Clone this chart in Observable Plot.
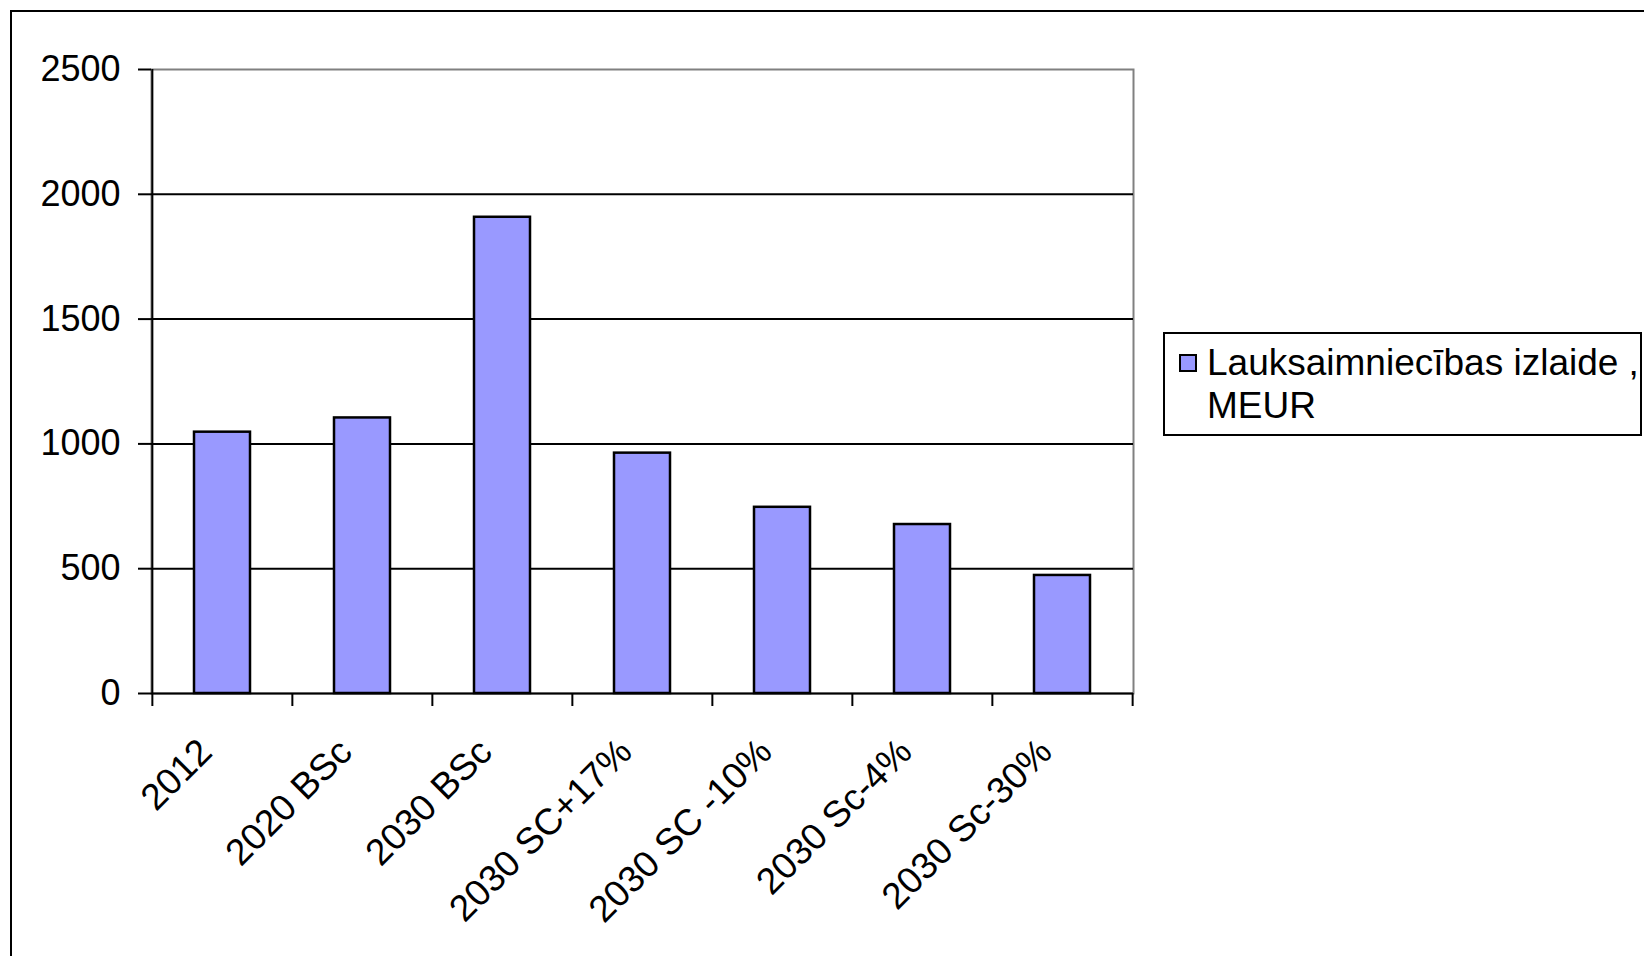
<!DOCTYPE html>
<html>
<head>
<meta charset="utf-8">
<script src="https://cdn.jsdelivr.net/npm/d3@7"></script>
<script src="https://cdn.jsdelivr.net/npm/@observablehq/plot@0.6"></script>
<style>
  html, body { margin: 0; padding: 0; background: #fff; overflow: hidden; }
  body { width: 1644px; height: 956px; position: relative; font-family: "Liberation Sans", Arial, sans-serif; }
  #frame { position: absolute; left: 10px; top: 10px; width: 1700px; height: 1000px; border: 2px solid #000; box-sizing: border-box; }
  #chart { position: absolute; left: 0; top: 0; }
  #legend { position: absolute; left: 1163px; top: 332px; width: 479px; height: 104px; box-sizing: border-box;
            border: 2px solid #000; background: #fff; font-size: 37px; line-height: 43px; color: #000; }
  #legend .swatch { position: absolute; left: 14px; top: 20px; width: 18px; height: 18px; box-sizing: border-box;
                    background: #9999ff; border: 2px solid #000; }
  #legend .label { position: absolute; left: 42px; top: 7px; white-space: nowrap; }
</style>
</head>
<body>
<div id="frame"></div>
<div id="chart"></div>
<div id="legend"><div class="swatch"></div><div class="label">Lauksaimniecības izlaide ,<br>MEUR</div></div>
<script>
// Lauksaimniecības izlaide (MEUR) by scenario
const categories = ["2012", "2020 BSc", "2030 BSc", "2030 SC+17%", "2030 SC -10%", "2030 Sc-4%", "2030 Sc-30%"];
const values = [1047, 1104, 1908, 963, 746, 677, 473];
const yTicks = [0, 500, 1000, 1500, 2000, 2500];
const gridTicks = [500, 1000, 1500, 2000];
const seriesName = "Lauksaimniecības izlaide , MEUR";

const data = categories.map((c, i) => ({category: c, value: values[i]}));

const W = 1644, H = 956;
const mL = 151, mR = 511, mT = 69, mB = 263;
const step = (W - mL - mR) / categories.length; // width of one category slot
const barColor = "#9999ff";

const chart = Plot.plot({
  width: W,
  height: H,
  marginLeft: mL,
  marginRight: mR,
  marginTop: mT,
  marginBottom: mB,
  style: {fontFamily: "'Liberation Sans', Arial, sans-serif", fontSize: "36px", color: "#000", background: "transparent"},
  x: {domain: categories, paddingInner: 0.6, paddingOuter: 0.3, align: 0.5, axis: null},
  y: {domain: [0, 2500], axis: null},
  marks: [
    // plot-area border (grey, top and right show)
    Plot.frame({stroke: "#808080", strokeWidth: 2}),
    Plot.gridY(gridTicks, {stroke: "#000", strokeOpacity: 1, strokeWidth: 2}),
    Plot.barY(data, {x: "category", y: "value", fill: barColor, stroke: "#000", strokeWidth: 2.5, title: d => `${d.category}: ${d.value}`}),
    // axis lines
    Plot.ruleY([0], {stroke: "#000", strokeWidth: 2}),
    Plot.ruleX([categories[0]], {dx: -step / 2, stroke: "#000", strokeWidth: 2}),
    // y axis ticks and labels
    Plot.axisY(yTicks, {label: null, tickSize: 13, tickPadding: 18, strokeWidth: 2, stroke: "#000", fill: "#000", tickFormat: d => String(d)}),
    // x axis ticks between categories
    Plot.axisX(categories, {label: null, tickSize: 13, dx: -step / 2, strokeWidth: 2, stroke: "#000", tickFormat: () => ""}),
    Plot.axisX([categories[categories.length - 1]], {label: null, tickSize: 13, dx: step / 2, strokeWidth: 2, stroke: "#000", tickFormat: () => ""}),
    // rotated category labels
    Plot.text(categories, {x: d => d, frameAnchor: "bottom", rotate: -45, textAnchor: "end", lineAnchor: "top", dx: -27, dy: 42, fontSize: 37, fill: "#000"})
  ]
});

document.getElementById("chart").appendChild(chart);
</script>
</body>
</html>
